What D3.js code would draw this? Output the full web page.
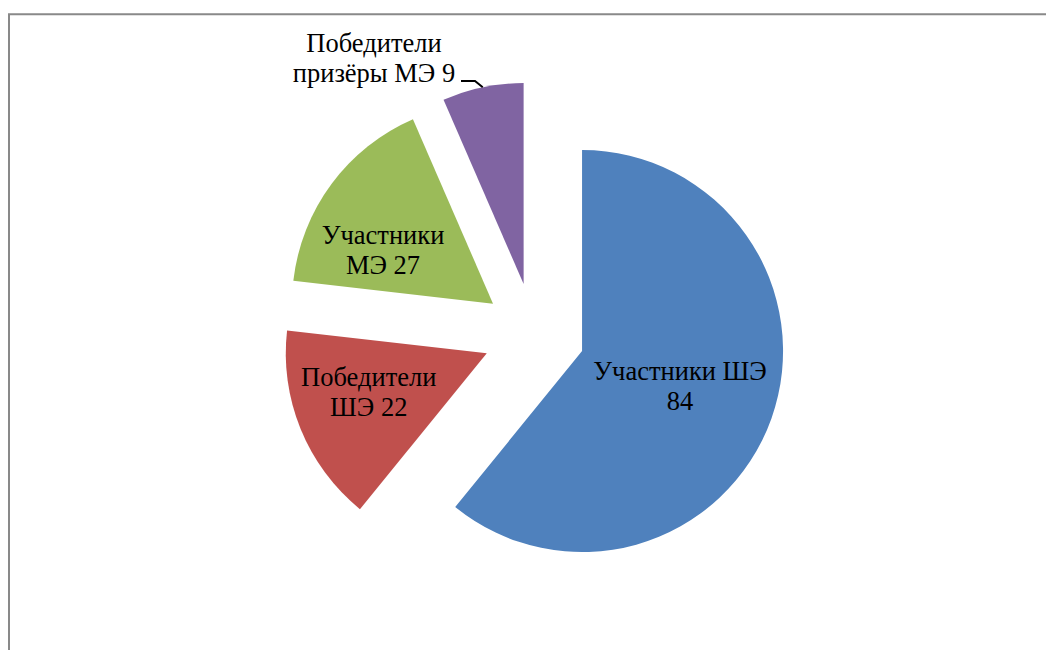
<!DOCTYPE html>
<html>
<head>
<meta charset="utf-8">
<script src="https://cdn.jsdelivr.net/npm/d3@7"></script>
<style>
  body { margin: 0; background: #fff; }
</style>
</head>
<body>
<svg id="chart" width="1046" height="650"></svg>
<script>
const categories = ["Участники ШЭ", "Победители ШЭ", "Участники МЭ", "Победители призёры МЭ"];
const values = [84, 22, 23, 9];
// label texts exactly as printed on the chart
const labelLines = [
  ["Участники ШЭ", "84"],
  ["Победители", "ШЭ 22"],
  ["Участники", "МЭ 27"],
  ["Победители", "призёры МЭ 9"]
];
const colors = ["#4F81BD", "#C0504D", "#9BBB59", "#8064A2"];

// layout
const cx = 534, cy = 334, radius = 201, explode = 51;
const fontSize = 26.5, lineH = 30;
const fontFamily = "'Liberation Serif', 'Times New Roman', serif";
// first-baseline offset of each inside label from its slice tip
const labelOffsets = [[98, 29], [-118, 33], [-110, -60], null];

const svg = d3.select("#chart");

// chart frame (runs off the right and bottom edges)
svg.append("path")
  .attr("d", "M9,650 L9,14.3 L1046,14.3")
  .attr("fill", "none")
  .attr("stroke", "#898989")
  .attr("stroke-width", 2);

const pie = d3.pie().sort(null).value(d => d).startAngle(0).endAngle(2 * Math.PI);
const arcs = pie(values);
const arc = d3.arc().innerRadius(0).outerRadius(radius);

const g = svg.append("g").attr("transform", `translate(${cx},${cy})`);

function dirOf(d, dist) {
  const a = (d.startAngle + d.endAngle) / 2;
  return [Math.sin(a) * dist, -Math.cos(a) * dist];
}

const slices = g.selectAll("g.slice")
  .data(arcs)
  .enter()
  .append("g")
  .attr("class", "slice")
  .attr("transform", d => {
    const o = dirOf(d, explode);
    return `translate(${o[0]},${o[1]})`;
  });

slices.append("path")
  .attr("d", arc)
  .attr("fill", (d, i) => colors[i]);

// inside labels
slices.each(function(d, i) {
  if (labelOffsets[i] == null) return;
  const p = labelOffsets[i];
  const t = d3.select(this).append("text")
    .attr("text-anchor", "middle")
    .style("font-family", fontFamily)
    .attr("font-size", fontSize)
    .attr("fill", "#000");
  labelLines[i].forEach((line, k) => {
    t.append("tspan")
      .attr("x", p[0])
      .attr("y", p[1] + k * lineH)
      .text(line);
  });
});

// outside label for the small purple slice, with leader line
const last = arcs[3];
const tip = dirOf(last, explode);
const edge = dirOf(last, radius);
const ex = cx + tip[0] + edge[0], ey = cy + tip[1] + edge[1];
const lx = 374, ly = 52;
const t4 = svg.append("text")
  .attr("text-anchor", "middle")
  .style("font-family", fontFamily)
  .attr("font-size", fontSize)
  .attr("fill", "#000");
labelLines[3].forEach((line, k) => {
  t4.append("tspan").attr("x", lx).attr("y", ly + k * lineH).text(line);
});
svg.append("path")
  .attr("d", `M461,81 L475,81 L${ex},${ey}`)
  .attr("fill", "none")
  .attr("stroke", "#000")
  .attr("stroke-width", 2);
</script>
</body>
</html>
